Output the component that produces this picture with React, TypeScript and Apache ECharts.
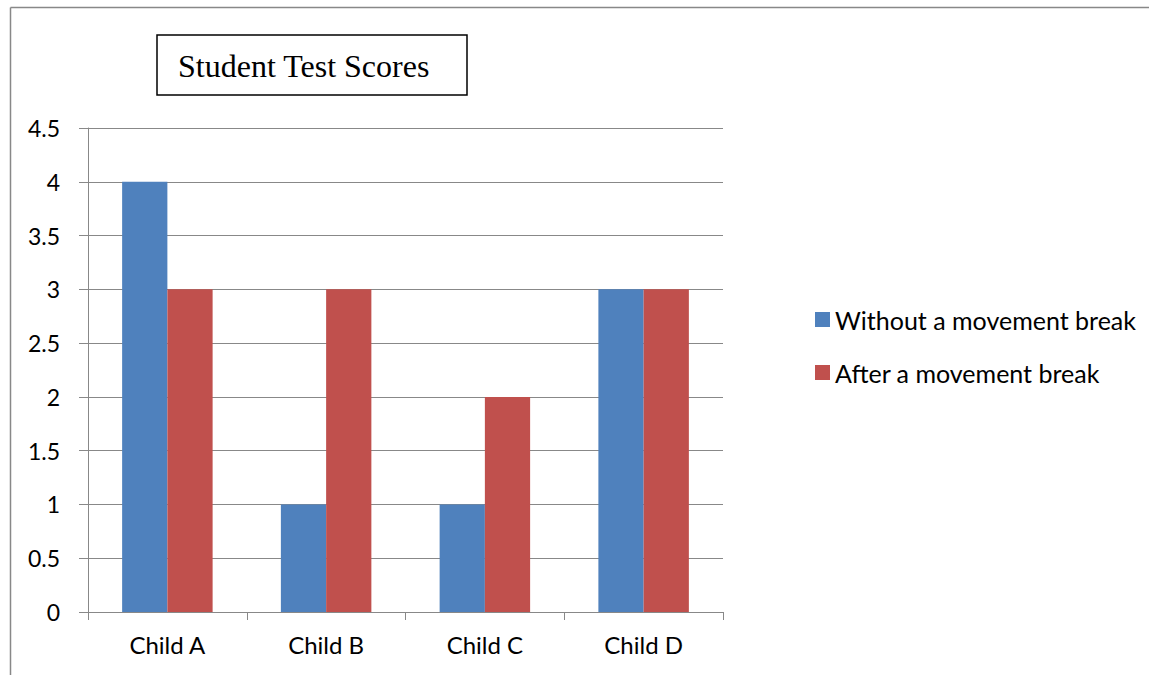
import React, { useEffect, useRef } from "react";
import * as echarts from "echarts";

const categories = ["Child A", "Child B", "Child C", "Child D"];
const withoutBreak = [4, 1, 1, 3];
const afterBreak = [3, 3, 2, 3];
const seriesNames = ["Without a movement break", "After a movement break"];
const titleText = "Student Test Scores";

const FONT = "Lato, 'Open Sans', sans-serif";

export default function App() {
  const ref = useRef<HTMLDivElement>(null);
  useEffect(() => {
    if (!ref.current) return;
    const chart = echarts.init(ref.current, undefined, { renderer: "svg" });
    chart.setOption({
      animation: false,
      backgroundColor: "#ffffff",
      grid: { left: 88, right: 426, top: 128, bottom: 63, containLabel: false },
      legend: {
        orient: "vertical",
        left: 815,
        top: 307,
        padding: 0,
        itemWidth: 15,
        itemHeight: 15,
        itemGap: 28,
        icon: "rect",
        textStyle: { fontFamily: FONT, fontSize: 25, color: "#000", lineHeight: 25 },
        data: seriesNames,
      },
      xAxis: {
        type: "category",
        data: categories,
        axisLine: { lineStyle: { color: "#888", width: 1 } },
        axisTick: { show: true, length: 8, lineStyle: { color: "#888" }, alignWithLabel: false },
        axisLabel: { fontFamily: FONT, fontSize: 24, color: "#000", margin: 20 },
      },
      yAxis: {
        type: "value",
        min: 0,
        max: 4.5,
        interval: 0.5,
        axisLine: { show: true, lineStyle: { color: "#888", width: 1 } },
        axisTick: { show: true, length: 9, lineStyle: { color: "#888" } },
        axisLabel: { fontFamily: FONT, fontSize: 23, color: "#000", margin: 28 },
        splitLine: { show: true, lineStyle: { color: "#888", width: 1 } },
      },
      series: [
        {
          name: seriesNames[0],
          type: "bar",
          data: withoutBreak,
          itemStyle: { color: "#4F81BD" },
          barGap: "0%",
          barCategoryGap: "43%",
        },
        {
          name: seriesNames[1],
          type: "bar",
          data: afterBreak,
          itemStyle: { color: "#C0504D" },
          barGap: "0%",
          barCategoryGap: "43%",
        },
      ],
      graphic: [
        { type: "line", shape: { x1: 10.5, y1: 7.5, x2: 1149, y2: 7.5 }, style: { stroke: "#888", lineWidth: 1.5 } },
        { type: "line", shape: { x1: 10.5, y1: 7.5, x2: 10.5, y2: 675 }, style: { stroke: "#888", lineWidth: 1.5 } },
        {
          type: "rect",
          shape: { x: 157, y: 35, width: 310, height: 60 },
          style: { fill: "#fff", stroke: "#000", lineWidth: 1.5 },
        },
        {
          type: "text",
          x: 178,
          y: 66,
          style: {
            text: titleText,
            font: "32px 'Liberation Serif', 'Times New Roman', serif",
            fill: "#000",
            verticalAlign: "middle",
            align: "left",
          },
        },
      ],
    });
    return () => chart.dispose();
  }, []);
  return (
    <div
      ref={ref}
      style={{ position: "fixed", left: 0, top: 0, width: 1149, height: 675 }}
    />
  );
}
